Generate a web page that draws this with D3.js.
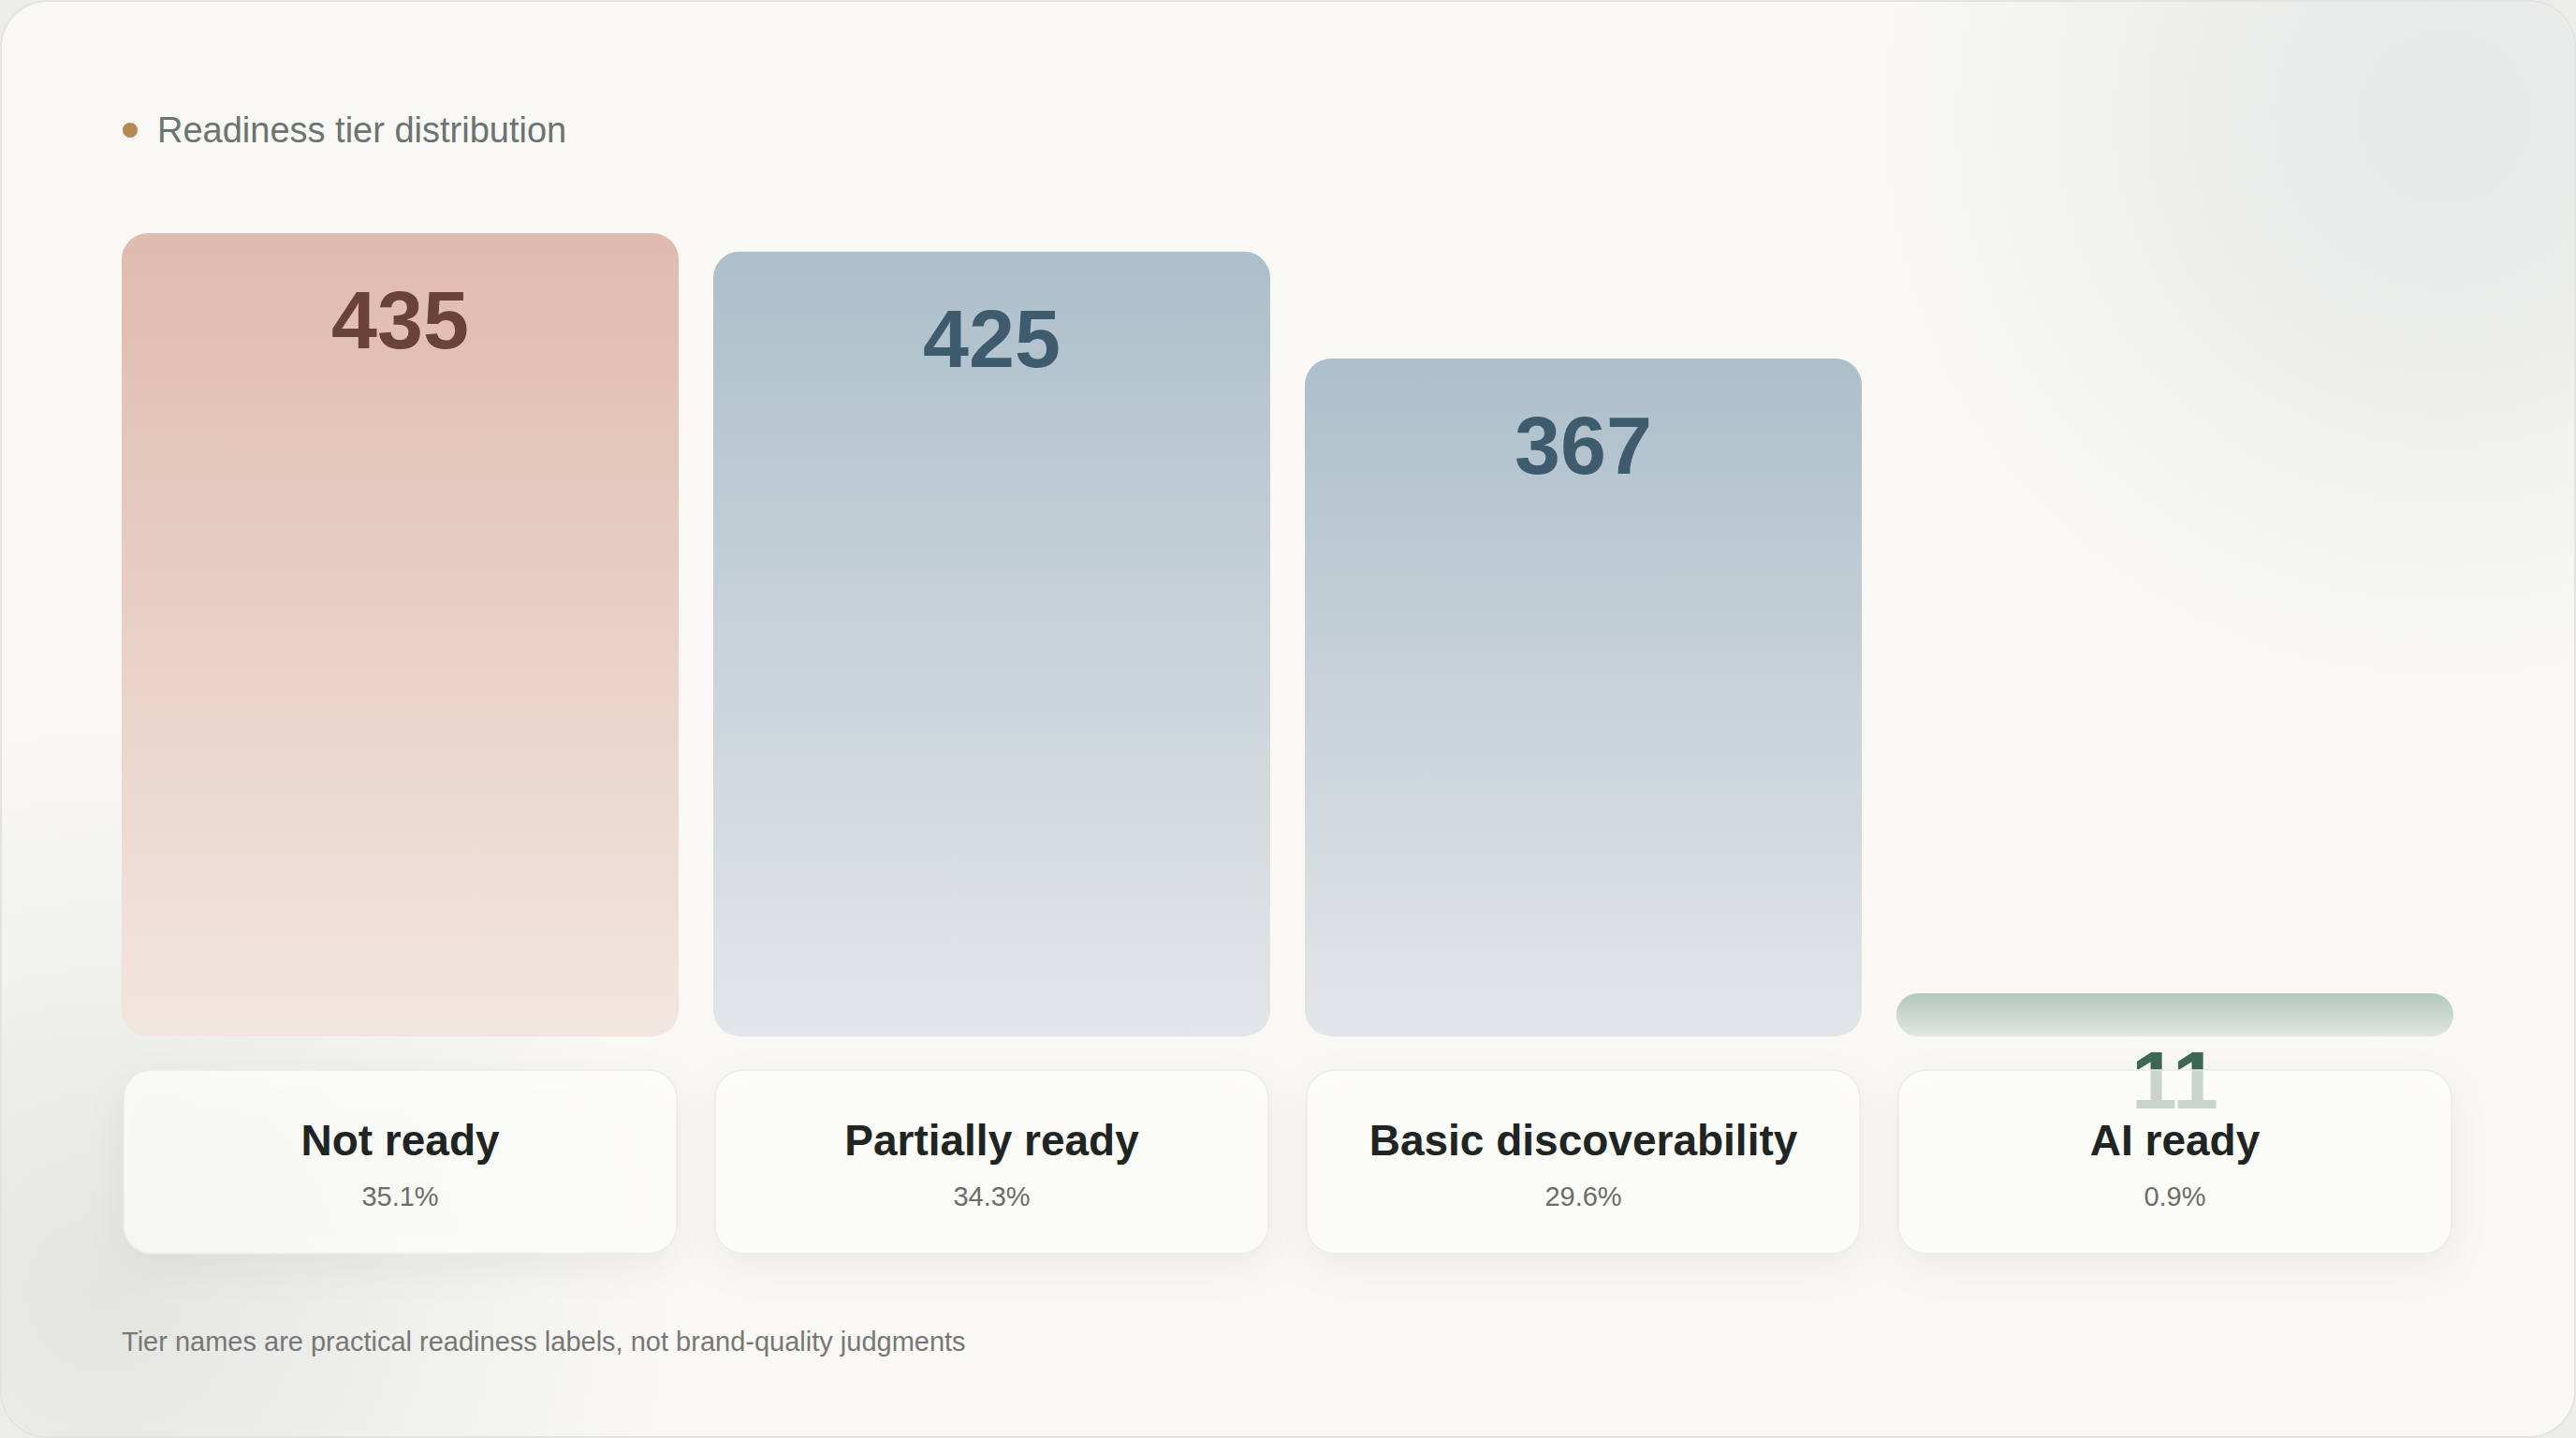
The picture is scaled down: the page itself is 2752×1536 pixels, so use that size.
<!DOCTYPE html>
<html>
<head>
<meta charset="utf-8">
<script src="https://cdn.jsdelivr.net/npm/d3@7"></script>
<style>
  html, body { margin: 0; padding: 0; background: #ececea; }
  svg { display: block; }
</style>
</head>
<body>
<div id="chart"></div>
<script>
// data
const tiers = ["Not ready", "Partially ready", "Basic discoverability", "AI ready"];
const counts = [435, 425, 367, 11];
const shares = ["35.1%", "34.3%", "29.6%", "0.9%"];
const title = "Readiness tier distribution";
const note = "Tier names are practical readiness labels, not brand-quality judgments";

// per tier colours: gradient top, gradient bottom, number colour
const topCols = ["#dfbbad", "#adbfcb", "#adbfcb", "#b3c8bc"];
const botCols = ["#f2e6e0", "#e3e6e8", "#e3e6e8", "#e0e6e2"];
const numCols = ["#6a4236", "#3f5c6f", "#3f5c6f", "#3e6656"];

const W = 2752, H = 1536;
const font = "'Liberation Sans', Arial, Helvetica, sans-serif";

const svg = d3.select("#chart").append("svg")
  .attr("width", W)
  .attr("height", H);

const defs = svg.append("defs");

// background blobs
const bgTR = defs.append("radialGradient").attr("id", "bgTR")
  .attr("cx", 0.95).attr("cy", 0.08).attr("r", 0.22)
  .attr("gradientTransform", "translate(0.95,0.08) scale(1,1.79) translate(-0.95,-0.08)");
bgTR.append("stop").attr("offset", 0).attr("stop-color", "#e5e8e7").attr("stop-opacity", 1);
bgTR.append("stop").attr("offset", 0.45).attr("stop-color", "#e5e8e7").attr("stop-opacity", 0.6);
bgTR.append("stop").attr("offset", 1).attr("stop-color", "#e5e8e7").attr("stop-opacity", 0);

const bgBL = defs.append("radialGradient").attr("id", "bgBL")
  .attr("cx", 0.04).attr("cy", 0.9).attr("r", 0.22)
  .attr("gradientTransform", "translate(0.04,0.9) scale(1,1.79) translate(-0.04,-0.9)");
bgBL.append("stop").attr("offset", 0).attr("stop-color", "#e4e5e3").attr("stop-opacity", 1);
bgBL.append("stop").attr("offset", 1).attr("stop-color", "#e4e5e3").attr("stop-opacity", 0);

tiers.forEach((t, i) => {
  const g = defs.append("linearGradient").attr("id", "bar" + i)
    .attr("x1", 0).attr("y1", 0).attr("x2", 0).attr("y2", 1);
  g.append("stop").attr("offset", 0).attr("stop-color", topCols[i]);
  g.append("stop").attr("offset", 1).attr("stop-color", botCols[i]);
});

const shadow = defs.append("filter").attr("id", "soft")
  .attr("x", -0.2).attr("y", -0.3).attr("width", 1.4).attr("height", 1.9);
shadow.append("feDropShadow")
  .attr("dx", 0).attr("dy", 14).attr("stdDeviation", 20)
  .attr("flood-color", "#000").attr("flood-opacity", 0.07);

// card
svg.append("rect")
  .attr("x", 1).attr("y", 1).attr("width", W - 2).attr("height", H - 2)
  .attr("rx", 50)
  .attr("fill", "#f9f8f5")
  .attr("stroke", "#e3e3e0").attr("stroke-width", 2);
svg.append("rect")
  .attr("x", 2).attr("y", 2).attr("width", W - 4).attr("height", H - 4)
  .attr("rx", 50).attr("fill", "url(#bgTR)");
svg.append("rect")
  .attr("x", 2).attr("y", 2).attr("width", W - 4).attr("height", H - 4)
  .attr("rx", 50).attr("fill", "url(#bgBL)");

// title
svg.append("circle")
  .attr("cx", 139).attr("cy", 139).attr("r", 8)
  .attr("fill", "#b8894f");
svg.append("text")
  .attr("x", 168).attr("y", 152)
  .attr("font-family", font).attr("font-size", 38)
  .attr("fill", "#6a7471")
  .text(title);

// scales
const x = d3.scaleBand()
  .domain(tiers)
  .range([130, 2621])
  .paddingInner(0.0585)
  .paddingOuter(0);

const baseY = 1107;
const y = d3.scaleLinear()
  .domain([0, d3.max(counts)])
  .range([baseY, 249]);
const minH = 46;
const barTop = d => Math.min(y(d), baseY - minH);

const rows = tiers.map((t, i) => ({ t, c: counts[i], s: shares[i], i }));

// bars
svg.append("g").selectAll("rect")
  .data(rows)
  .enter()
  .append("rect")
  .attr("x", d => x(d.t))
  .attr("y", d => barTop(d.c))
  .attr("width", x.bandwidth())
  .attr("height", d => baseY - barTop(d.c))
  .attr("rx", d => Math.min(28, (baseY - barTop(d.c)) / 2))
  .attr("fill", d => "url(#bar" + d.i + ")");

// value labels
svg.append("g").selectAll("text")
  .data(rows)
  .enter()
  .append("text")
  .attr("x", d => x(d.t) + x.bandwidth() / 2)
  .attr("y", d => barTop(d.c) + 123)
  .attr("text-anchor", "middle")
  .attr("font-family", font).attr("font-size", 88).attr("font-weight", 700)
  .attr("fill", d => numCols[d.i])
  .text(d => d.c);

// label cards
const cardTop = 1143, cardH = 196;
svg.append("g").selectAll("rect")
  .data(rows)
  .enter()
  .append("rect")
  .attr("x", d => x(d.t) + 2)
  .attr("y", cardTop)
  .attr("width", x.bandwidth() - 4)
  .attr("height", cardH)
  .attr("rx", 30)
  .attr("fill", "#fdfdfb")
  .attr("fill-opacity", 0.72)
  .attr("stroke", "#ebebe8").attr("stroke-width", 1.5)
  .attr("filter", "url(#soft)");

svg.append("g").selectAll("text")
  .data(rows)
  .enter()
  .append("text")
  .attr("x", d => x(d.t) + x.bandwidth() / 2)
  .attr("y", 1234)
  .attr("text-anchor", "middle")
  .attr("font-family", font).attr("font-size", 46).attr("font-weight", 700)
  .attr("fill", "#1f2523")
  .text(d => d.t);

svg.append("g").selectAll("text")
  .data(rows)
  .enter()
  .append("text")
  .attr("x", d => x(d.t) + x.bandwidth() / 2)
  .attr("y", 1288)
  .attr("text-anchor", "middle")
  .attr("font-family", font).attr("font-size", 29)
  .attr("fill", "#6c6c6a")
  .text(d => d.s);

// footnote
svg.append("text")
  .attr("x", 130).attr("y", 1443)
  .attr("font-family", font).attr("font-size", 29)
  .attr("fill", "#777775")
  .text(note);
</script>
</body>
</html>
